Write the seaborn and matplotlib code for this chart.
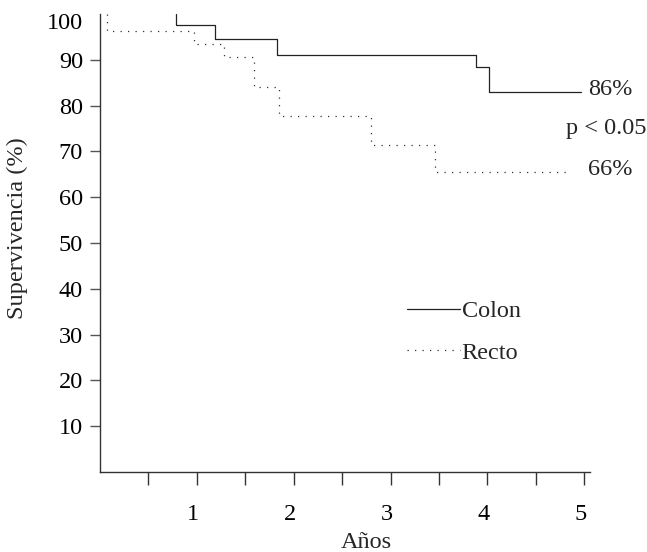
import matplotlib
matplotlib.use("Agg")
import matplotlib.pyplot as plt
import matplotlib.transforms as mtransforms
import seaborn as sns
import pandas as pd

# ---- data ----
colon_years = [0.787, 0.787, 1.186, 1.827, 3.879, 4.013, 4.965]
colon_surv = [100.0, 97.6, 94.5, 91.0, 88.5, 83.0, 83.0]
recto_years = [0.07, 0.07, 0.966, 1.276, 1.594, 1.852, 2.796, 3.46, 4.86]
recto_surv = [100.0, 96.3, 93.4, 90.6, 84.1, 77.8, 71.5, 65.4, 65.4]
groups = ["Colon", "Recto"]
y_ticks = [10, 20, 30, 40, 50, 60, 70, 80, 90, 100]
x_ticks = [1, 2, 3, 4, 5]
x_minor = [0.5, 1.5, 2.5, 3.5, 4.5]
end_labels = ["86%", "p < 0.05", "66%"]
end_label_x = [5.04, 4.81, 5.04]
end_label_y = [82.3, 73.8, 64.8]

df = pd.DataFrame({
    "Años": colon_years + recto_years,
    "Supervivencia": colon_surv + recto_surv,
    "Grupo": [groups[0]] * len(colon_years) + [groups[1]] * len(recto_years),
})

FS = 17.5

sns.set_style("ticks")
plt.rcParams["font.family"] = ["Liberation Serif", "DejaVu Serif"]
plt.rcParams["font.size"] = FS

fig = plt.figure(figsize=(6.47, 5.52), dpi=100)
ax = fig.add_axes([100 / 647, 1 - 472 / 552, 490 / 647, 458 / 552])

sns.lineplot(
    data=df, x="Años", y="Supervivencia", hue="Grupo", style="Grupo",
    palette={"Colon": "#222222", "Recto": "#333333"},
    dashes={"Colon": "", "Recto": (1, 5)},
    estimator=None, sort=False, drawstyle="steps-post",
    linewidth=0.9, ax=ax, legend=True,
)

ax.set_xlim(0, 5.06)
ax.set_ylim(0, 100)

ax.set_yticks(y_ticks)
ax.set_yticklabels([str(v) for v in y_ticks])
ax.set_xticks(x_ticks)
ax.set_xticklabels([str(v) for v in x_ticks])
ax.set_xticks(x_minor, minor=True)

for s in ["top", "right"]:
    ax.spines[s].set_visible(False)
for s in ["left", "bottom"]:
    ax.spines[s].set_color("#333333")
    ax.spines[s].set_linewidth(1.0)

ax.tick_params(axis="y", direction="out", length=7.2, width=1.0, color="#555555",
               pad=5, labelsize=FS, labelcolor="black")
ax.tick_params(axis="x", which="both", direction="out", length=9.4, width=1.0,
               color="#333333", pad=13.5, labelsize=FS, labelcolor="black")

# hide tick line at 100, shift its label down slightly
yt = ax.yaxis.get_major_ticks()
yt[-1].tick1line.set_visible(False)
lab100 = yt[-1].label1
lab100.set_transform(lab100.get_transform() +
                     mtransforms.ScaledTranslation(0, -7 / 100, fig.dpi_scale_trans))
for t in ax.xaxis.get_major_ticks():
    t.label1.set_transform(t.label1.get_transform() +
                           mtransforms.ScaledTranslation(-4 / 100, 0, fig.dpi_scale_trans))

ax.set_xlabel("Años", fontsize=FS)
ax.set_ylabel("Supervivencia (%)", fontsize=FS)
ax.xaxis.set_label_coords(0.544, -0.13)
ax.yaxis.set_label_coords(-0.147, 0.533)

for txt, xx, yy in zip(end_labels, end_label_x, end_label_y):
    ax.text(xx, yy, txt, ha="left", va="baseline", fontsize=FS, clip_on=False)

handles, labels = ax.get_legend_handles_labels()
ax.legend(handles, labels, frameon=False, fontsize=FS,
          handlelength=2.2, handletextpad=0.05, labelspacing=0.82,
          loc="upper left", bbox_to_anchor=(307 / 490, (472 - 300) / 458),
          borderaxespad=0, borderpad=0)

fig.savefig("out.png", dpi=100)
